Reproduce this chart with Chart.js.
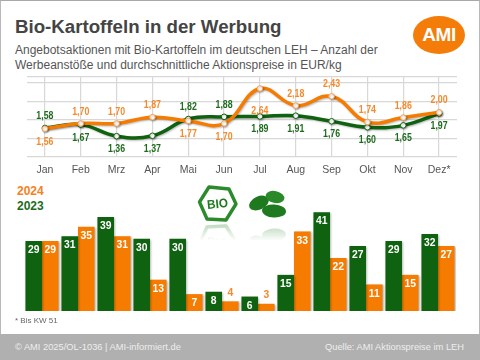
<!DOCTYPE html>
<html lang="de">
<head>
<meta charset="utf-8">
<title>Bio-Kartoffeln in der Werbung</title>
<script src="https://cdn.jsdelivr.net/npm/chart.js@4"></script>
<style>
  html, body { margin: 0; padding: 0; background: #fff; }
  #page { position: relative; width: 480px; height: 360px; overflow: hidden; font-family: "Liberation Sans", Arial, sans-serif; background: #fff; }
  #page > * { position: absolute; }
  #frame { left: 0; top: 0; border-top: 1px solid #a8a8a8; border-left: 1px solid #b8b8b8; border-right: 1px solid #b8b8b8; box-sizing: border-box; height: 360px; width: 480px; }
  #title { left: 15px; top: 16px; font-size: 18.7px; font-weight: bold; color: #444; white-space: nowrap; }
  .sub { left: 15px; font-size: 12px; color: #555; white-space: nowrap; }
  #logo { left: 413px; top: 16px; width: 52px; height: 38px; border-radius: 50%; background: #f47d0a; color: #fff; font-weight: bold; font-size: 19px; line-height: 38px; text-align: center; letter-spacing: -0.5px; }
  #y2024, #y2023 { left: 17px; font-size: 12px; font-weight: bold; }
  #y2024 { top: 184px; color: #f58220; }
  #y2023 { top: 199px; color: #1e6b1e; }
  #note { left: 15px; top: 316px; font-size: 8px; color: #666; }
  #footer { left: 0; top: 334px; width: 480px; height: 26px; background: #b0b0b0; }
  #footL, #footR { top: 342px; font-size: 9.3px; color: #eee; white-space: nowrap; }
  #footL { left: 15px; }
  #footR { right: 16px; }
</style>
</head>
<body>
<div id="page">
  <div id="frame"></div>
  <div id="title">Bio-Kartoffeln in der Werbung</div>
  <div class="sub" style="top:43px">Angebotsaktionen mit Bio-Kartoffeln im deutschen LEH – Anzahl der</div>
  <div class="sub" style="top:58px">Werbeanstöße und durchschnittliche Aktionspreise in EUR/kg</div>
  <div id="logo">AMI</div>
  <canvas id="priceChart" width="480" height="180" style="left:0;top:0"></canvas>
  <div id="y2024">2024</div>
  <div id="y2023">2023</div>
  <svg width="480" height="70" viewBox="0 175 480 70" style="left:0;top:175px">
    <defs>
      <linearGradient id="fade" x1="0" y1="222" x2="0" y2="241" gradientUnits="userSpaceOnUse">
        <stop offset="0" stop-color="#fff" stop-opacity="0.35"/>
        <stop offset="1" stop-color="#fff" stop-opacity="0"/>
      </linearGradient>
      <mask id="fadeMask" maskUnits="userSpaceOnUse" x="180" y="222" width="120" height="20">
        <rect x="180" y="222" width="120" height="20" fill="url(#fade)"/>
      </mask>
      <g id="mark">
        <polygon points="209,187 229,189 236,204 226,220 207,219 199.5,202" fill="#fff" stroke="#2b8a2b" stroke-width="3.4" stroke-linejoin="round"/>
        <text x="217.5" y="208" text-anchor="middle" font-family="Liberation Sans" font-weight="bold" font-size="12.5" fill="#1e7a1e" textLength="21" lengthAdjust="spacingAndGlyphs" transform="rotate(-6 217.5 204)">BIO</text>
        <ellipse cx="259" cy="203" rx="10.5" ry="6.5" transform="rotate(-25 259 203)" fill="#1f7a1f"/>
        <ellipse cx="275" cy="197" rx="9.5" ry="6" transform="rotate(12 275 197)" fill="#2a8a2a"/>
        <ellipse cx="274" cy="211" rx="12" ry="6.5" transform="rotate(3 274 211)" fill="#1f7a1f"/>
      </g>
    </defs>
    <use href="#mark"/>
    <g mask="url(#fadeMask)"><use href="#mark" transform="translate(0 446) scale(1 -1)"/></g>
  </svg>
  <canvas id="countChart" width="432" height="120" style="left:24px;top:191px"></canvas>
  <div id="note">* Bis KW 51</div>
  <div id="footer"></div>
  <div id="footL">© AMI 2025/OL-1036 | AMI-informiert.de</div>
  <div id="footR">Quelle: AMI Aktionspreise im LEH</div>
</div>
<script>
const MONTHS = ["Jan", "Feb", "Mrz", "Apr", "Mai", "Jun", "Jul", "Aug", "Sep", "Okt", "Nov", "Dez*"];

const PRICE_2023 = [1.58, 1.67, 1.36, 1.37, 1.82, 1.88, 1.89, 1.91, 1.76, 1.60, 1.65, 1.97];
const PRICE_2024 = [1.56, 1.70, 1.70, 1.87, 1.77, 1.70, 2.64, 2.18, 2.43, 1.74, 1.86, 2.00];

const COUNT_2023 = [29, 31, 39, 30, 30, 8, 6, 15, 41, 27, 29, 32];
const COUNT_2024 = [29, 35, 31, 13, 7, 4, 3, 33, 22, 11, 15, 27];

const PRICE_TICKS = [0.8, 1.3, 1.8, 2.3, 2.8, 2.95];

const GREEN = "#0f620f";
const ORANGE = "#f57c00";
const LABEL_GREEN = "#1e6b1e";
const LABEL_ORANGE = "#f58a2c";

const comma = v => v.toFixed(2).replace(".", ",");

// no narrow font installed, so squeeze the text horizontally
function squeezedText(c, text, x, y, squeeze) {
  c.save();
  c.translate(x, y);
  c.scale(squeeze, 1);
  c.fillText(text, 0, 0);
  c.restore();
}

// soft shadow under lines and bars
const shadowPlugin = {
  id: "softShadow",
  beforeDatasetsDraw(chart) {
    const c = chart.ctx;
    c.save();
    c.shadowColor = "rgba(0,0,0,0.28)";
    c.shadowBlur = 2;
    c.shadowOffsetX = 1;
    c.shadowOffsetY = 1;
  },
  afterDatasetsDraw(chart) {
    chart.ctx.restore();
  },
};

// price labels above or below the points
const priceLabels = {
  id: "priceLabels",
  afterDraw(chart) {
    const c = chart.ctx;
    c.save();
    c.font = 'bold 11px "Liberation Sans", sans-serif';
    c.textAlign = "center";
    c.textBaseline = "middle";
    chart.data.datasets.forEach((ds, d) => {
      const other = chart.data.datasets[1 - d].data;
      chart.getDatasetMeta(d).data.forEach((pt, i) => {
        const jul = MONTHS[i] === "Jul";
        const above = !jul && ds.data[i] >= other[i];
        let dy = above ? -12 : 13;
        if (jul && d === 1) dy = 22; // 2,64 sits under its own peak
        c.fillStyle = d === 0 ? LABEL_GREEN : LABEL_ORANGE;
        squeezedText(c, comma(ds.data[i]), pt.x, pt.y + dy, 0.8);
      });
    });
    c.restore();
  },
};

// counts inside the bars, or above when the bar is too short
const countLabels = {
  id: "countLabels",
  afterDatasetsDraw(chart) {
    const c = chart.ctx;
    c.save();
    c.font = 'bold 11.5px "Liberation Sans", sans-serif';
    c.textAlign = "center";
    c.textBaseline = "middle";
    chart.data.datasets.forEach((ds, d) => {
      chart.getDatasetMeta(d).data.forEach((bar, i) => {
        const short = ds.data[i] < 5;
        c.fillStyle = short ? LABEL_ORANGE : "#fff";
        squeezedText(c, ds.data[i], bar.x, bar.y + (short ? -9 : 9), 0.9);
      });
    });
    c.restore();
  },
};

new Chart(document.getElementById("priceChart"), {
  type: "line",
  data: {
    labels: MONTHS,
    datasets: [
      { label: "2023", data: PRICE_2023, borderColor: GREEN, pointBorderColor: GREEN, order: 2 },
      { label: "2024", data: PRICE_2024, borderColor: ORANGE, pointBorderColor: "#f9a04a", order: 1 },
    ],
  },
  options: {
    responsive: false,
    animation: false,
    layout: { padding: { left: 27, right: 23, top: 77, bottom: 0 } },
    elements: {
      line: { borderWidth: 3.5, tension: 0.42, fill: false },
      point: { radius: 2.8, borderWidth: 1, backgroundColor: "#fff" },
    },
    plugins: { legend: { display: false }, tooltip: { enabled: false } },
    scales: {
      x: {
        offset: true,
        grid: { color: "#d8d8d8", lineWidth: 1.2, tickLength: 0 },
        border: { display: false },
        ticks: { color: "#555", font: { family: "Liberation Sans", size: 10.5 }, padding: 7, autoSkip: false, maxRotation: 0 },
        afterFit: s => { s.height = 23; },
      },
      y: {
        min: 0.8,
        max: 2.95,
        afterBuildTicks: s => { s.ticks = PRICE_TICKS.map(value => ({ value })); },
        grid: { color: "#d8d8d8", lineWidth: 1.2, tickLength: 0 },
        border: { display: false },
        ticks: { display: false },
        afterFit: s => { s.width = 0; },
      },
    },
  },
  plugins: [shadowPlugin, priceLabels],
});

new Chart(document.getElementById("countChart"), {
  type: "bar",
  data: {
    labels: MONTHS,
    datasets: [
      { label: "2023", data: COUNT_2023, backgroundColor: GREEN },
      { label: "2024", data: COUNT_2024, backgroundColor: ORANGE },
    ],
  },
  options: {
    responsive: false,
    animation: false,
    layout: { padding: 0 },
    datasets: { bar: { categoryPercentage: 0.92, barPercentage: 1 } },
    plugins: { legend: { display: false }, tooltip: { enabled: false } },
    scales: {
      x: { display: false },
      y: { display: false, min: 0, max: 49.8 },
    },
  },
  plugins: [shadowPlugin, countLabels],
});
</script>
</body>
</html>
